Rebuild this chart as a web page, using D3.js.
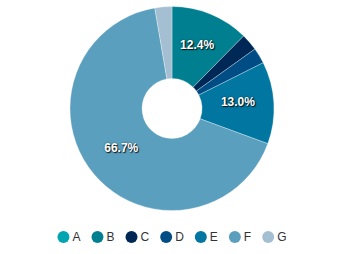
<!DOCTYPE html>
<html>
<head>
<meta charset="utf-8">
<script src="https://cdn.jsdelivr.net/npm/d3@7"></script>
<style>
  body { margin: 0; background: #fff; }
  svg text { font-family: "Liberation Sans", Arial, Helvetica, sans-serif; }
  .slice-label { text-shadow: 1px 1px 1px rgba(0,0,0,0.85), 0 0 2px rgba(0,0,0,0.5); }
</style>
</head>
<body>
<script>
/* Chart values */
var categories = ['A', 'B', 'C', 'D', 'E', 'F', 'G'];
var shares = [0, 12.4, 2.7, 2.5, 13.0, 66.7, 2.7];
var colours = ['#00a5b0', '#007f90', '#002856', '#004d85', '#0076a1', '#5b9fbf', '#a4bfd2'];

var width = 345, height = 254;
var cx = 172, cy = 108.5, outer = 102, inner = 30;

var svg = d3.select('body')
    .append('svg')
    .attr('width', width)
    .attr('height', height);

var data = categories.map(function (c, i) {
    return {name: c, value: shares[i], colour: colours[i]};
});

var pie = d3.pie()
    .sort(null)
    .value(function (d) { return d.value; });

var arc = d3.arc()
    .innerRadius(inner)
    .outerRadius(outer);

var arcs = pie(data);

var g = svg.append('g')
    .attr('transform', 'translate(' + cx + ',' + cy + ')');

/* Donut slices */
g.selectAll('path')
    .data(arcs.filter(function (d) { return d.data.value > 0; }))
    .enter()
    .append('path')
    .attr('d', arc)
    .attr('fill', function (d) { return d.data.colour; })
    .attr('stroke', '#fff')
    .attr('stroke-opacity', 0.5)
    .attr('stroke-width', 0.6);

/* Percent labels, only on the bigger slices */
g.selectAll('text.slice-label')
    .data(arcs.filter(function (d) { return d.data.value >= 10; }))
    .enter()
    .append('text')
    .attr('class', 'slice-label')
    .attr('transform', function (d) { return 'translate(' + arc.centroid(d) + ')'; })
    .attr('text-anchor', 'middle')
    .attr('dy', '0.1em')
    .attr('fill', '#fff')
    .attr('font-size', 12)
    .attr('font-weight', 'bold')
    .text(function (d) { return d.data.value.toFixed(1) + '%'; });

/* Legend: circle + name, laid out in a row and centred */
var legend = svg.append('g');
var r = 6, x = 0, gap = 3, spacing = 11;
data.forEach(function (d) {
    var item = legend.append('g').attr('transform', 'translate(' + x + ',0)');
    item.append('circle')
        .attr('cx', r)
        .attr('cy', 0)
        .attr('r', r)
        .attr('fill', d.colour);
    var t = item.append('text')
        .attr('x', 2 * r + gap)
        .attr('dy', '0.35em')
        .attr('font-size', 12)
        .attr('fill', '#333')
        .text(d.name);
    x += 2 * r + gap + t.node().getComputedTextLength() + spacing;
});
var legendW = x - spacing;
legend.attr('transform', 'translate(' + (172 - legendW / 2) + ',237)');
</script>
</body>
</html>
